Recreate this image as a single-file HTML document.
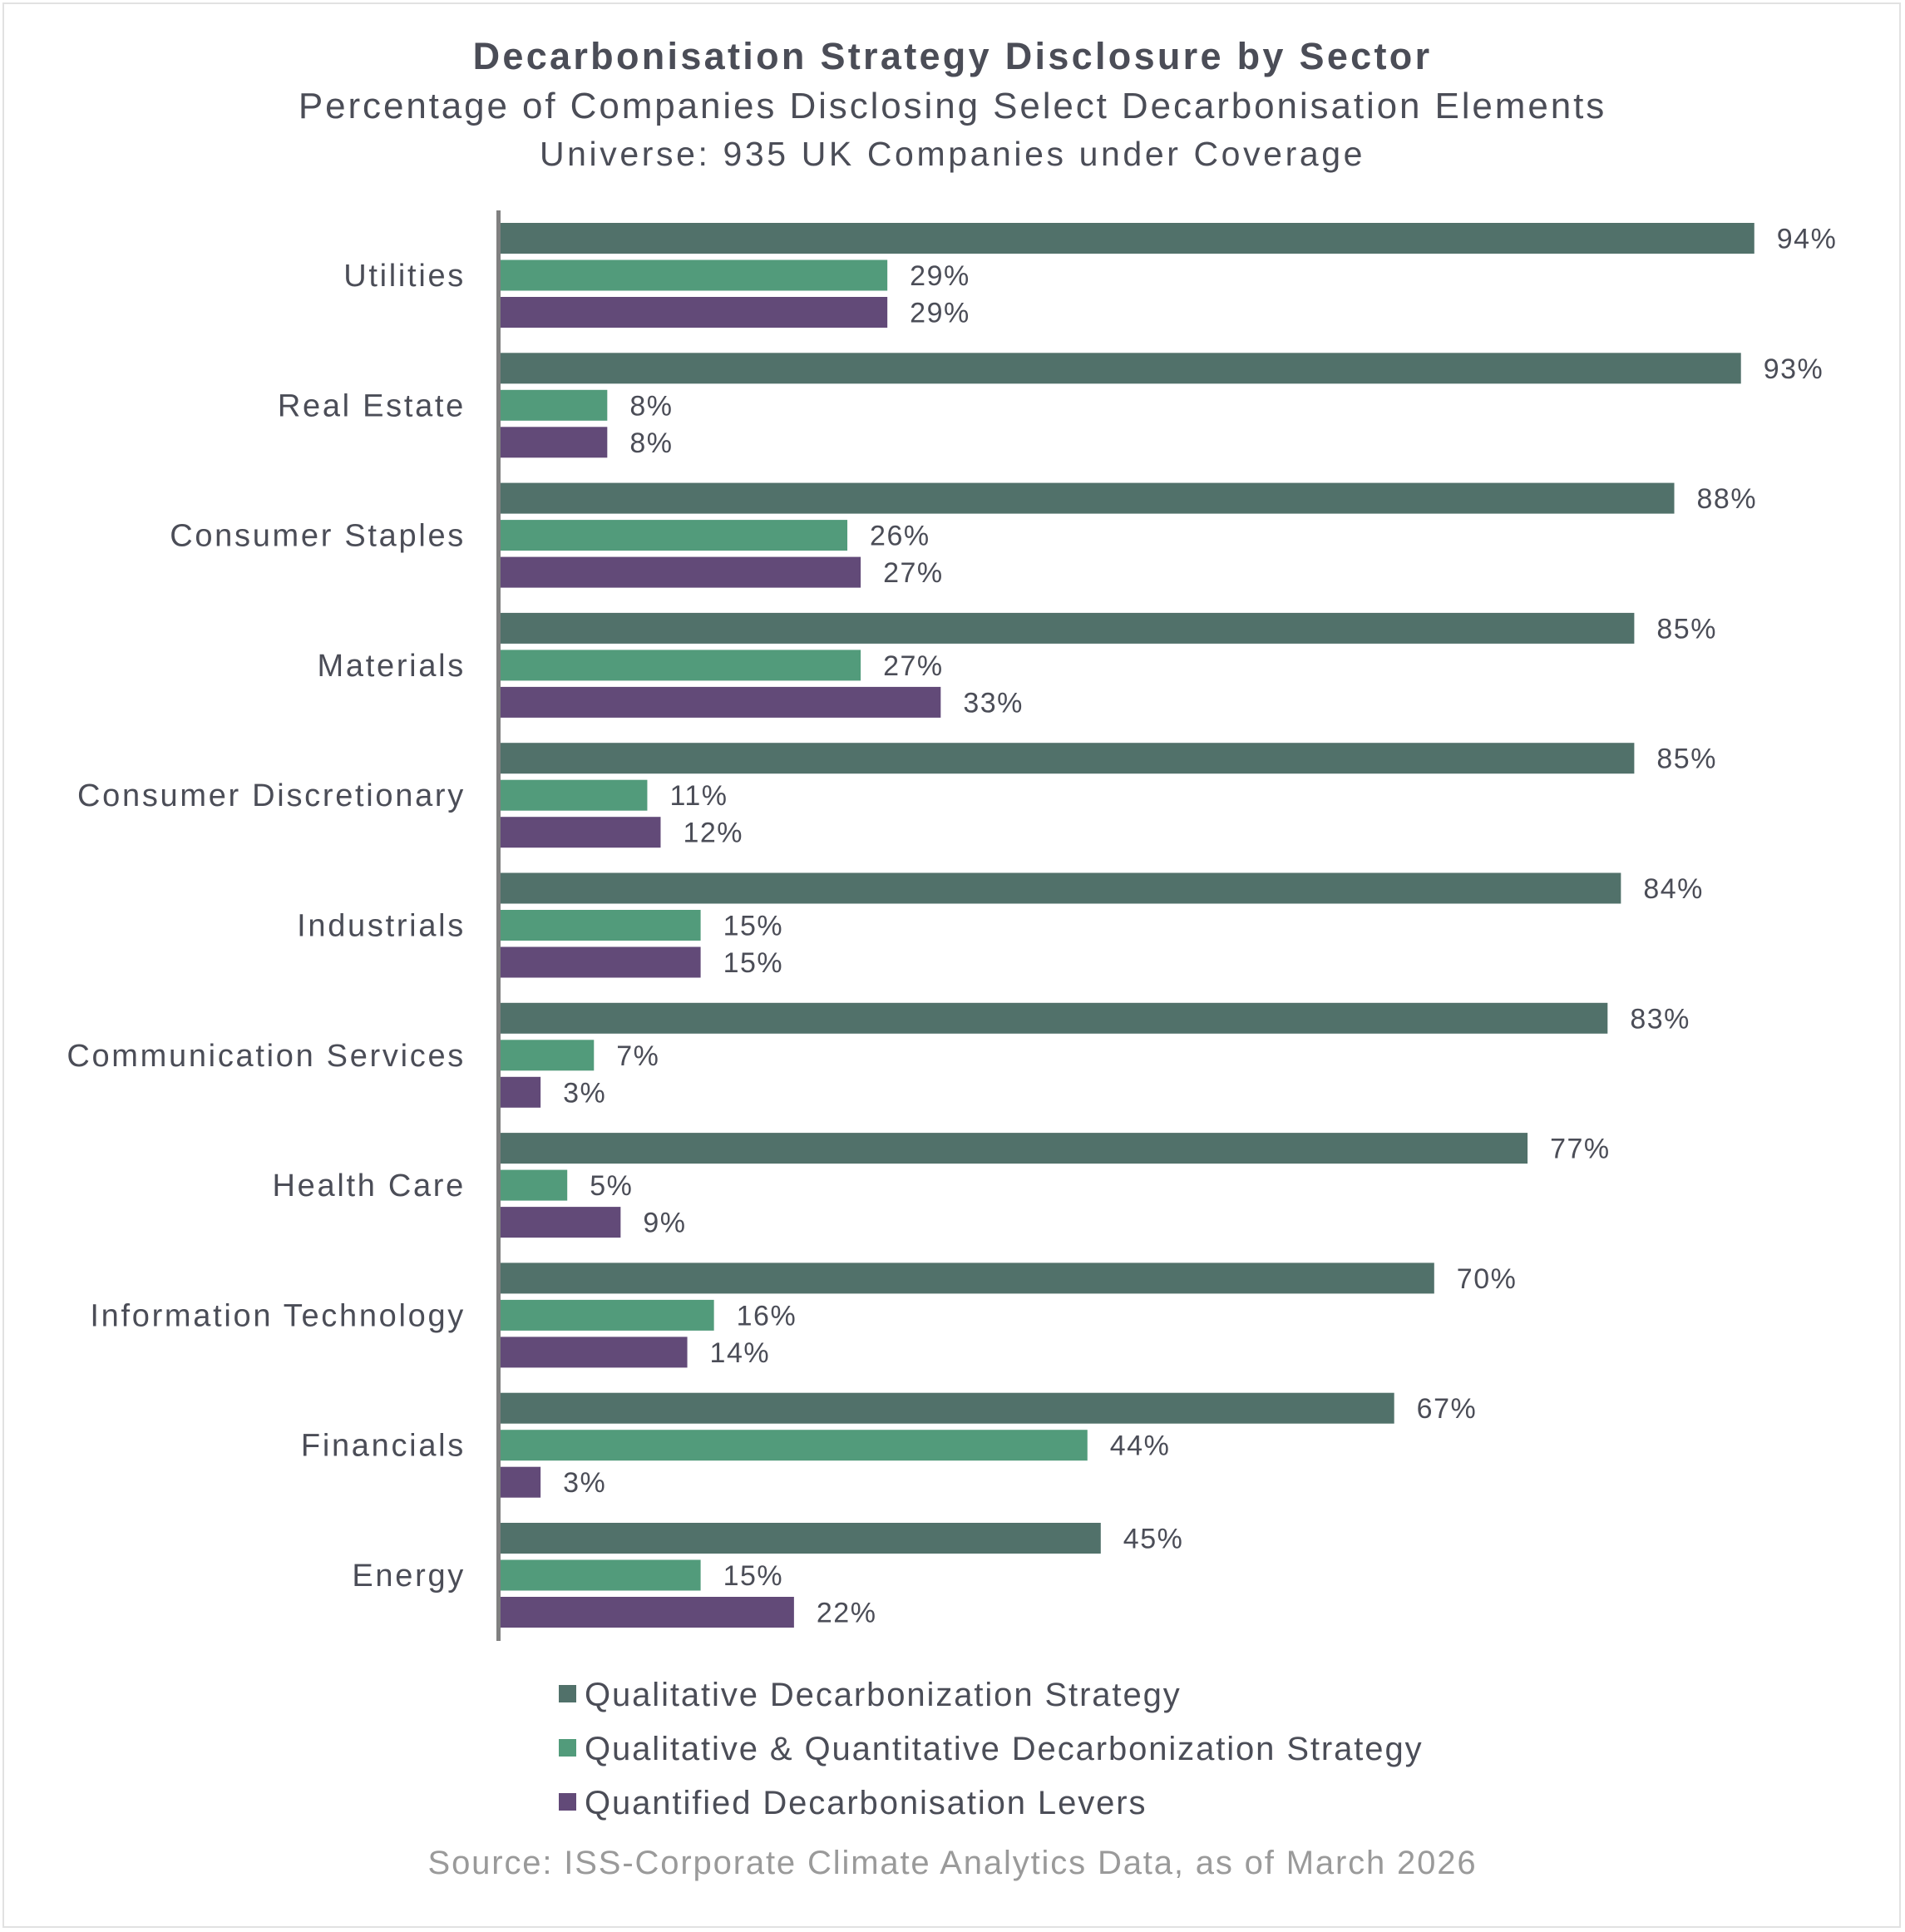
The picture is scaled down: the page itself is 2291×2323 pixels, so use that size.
<!DOCTYPE html>
<html><head><meta charset="utf-8"><style>
html,body{margin:0;padding:0;background:#fff;}
body{width:2291px;height:2323px;position:relative;overflow:hidden;font-family:"Liberation Sans",sans-serif;color:#4b4d57;}
.frame{position:absolute;left:3px;top:3px;width:2283px;height:2315px;border:2px solid #e2e2e2;box-sizing:border-box;}
.t{position:absolute;left:0;width:2291px;text-align:center;white-space:nowrap;}
</style></head><body>
<div class="t" style="top:42px;font-size:45px;font-weight:bold;letter-spacing:3.3px;">Decarbonisation Strategy Disclosure by Sector</div>
<div class="t" style="top:103px;font-size:44px;letter-spacing:2.9px;">Percentage of Companies Disclosing Select Decarbonisation Elements</div>
<div class="t" style="top:162px;font-size:41px;letter-spacing:3.6px;">Universe: 935 UK Companies under Coverage</div>
<div class="frame"></div>
<svg id="chart" width="2291" height="2323" style="position:absolute;left:0;top:0"></svg>
<div class="t" style="top:2218px;font-size:40px;color:#9a9a9a;letter-spacing:1.85px;">Source: ISS-Corporate Climate Analytics Data, as of March 2026</div>
<script>
const categories=["Utilities","Real Estate","Consumer Staples","Materials","Consumer Discretionary","Industrials","Communication Services","Health Care","Information Technology","Financials","Energy"];
const qualitative=[94,93,88,85,85,84,83,77,70,67,45];
const qualQuant=[29,8,26,27,11,15,7,5,16,44,15];
const quantLevers=[29,8,27,33,12,15,3,9,14,3,22];
const seriesNames=["Qualitative Decarbonization Strategy","Qualitative & Quantitative Decarbonization Strategy","Quantified Decarbonisation Levers"];
const colors=["#51716a","#529b7b","#624a78"];
const NS="http://www.w3.org/2000/svg";
const svg=document.getElementById('chart');
const x0=602, pxPer=16.04, top0=268, groupH=156.3, barH=37, barStep=44.5;
const xs=v=>x0+v*pxPer;
function mk(t,a){const e=document.createElementNS(NS,t);for(const k in a)e.setAttribute(k,a[k]);svg.appendChild(e);return e;}
const series=[qualitative,qualQuant,quantLevers];
categories.forEach((c,i)=>{
  const gy=top0+i*groupH;
  const lab=mk('text',{x:560,y:gy+barStep+barH/2+13,'text-anchor':'end','font-size':38,'letter-spacing':2.7,fill:'#4b4d57'});
  lab.textContent=c;
  
  
  series.forEach((s,j)=>{
    const y=gy+j*barStep;
    const r=mk('rect',{x:x0,y:y,width:xs(s[i])-x0,height:barH,fill:colors[j]});
    
    
    const v=mk('text',{x:xs(s[i])+27,y:y+barH/2+12,'font-size':34,'letter-spacing':1.5,fill:'#4b4d57'});
    v.textContent=s[i]+'%';
    
    
  });
});
const ax=mk('line',{x1:599.5,x2:599.5,y1:253,y2:1973,stroke:'#808080','stroke-width':5});


seriesNames.forEach((n,j)=>{
  const cy=2037+j*65;
  const sq=mk('rect',{x:672,y:cy-11,width:21,height:21,fill:colors[j]});
  
  
  const t=mk('text',{x:703,y:cy+14,'font-size':40,'letter-spacing':1.9,fill:'#4b4d57'});
  t.textContent=n;
  
  
});
</script>
</body></html>
